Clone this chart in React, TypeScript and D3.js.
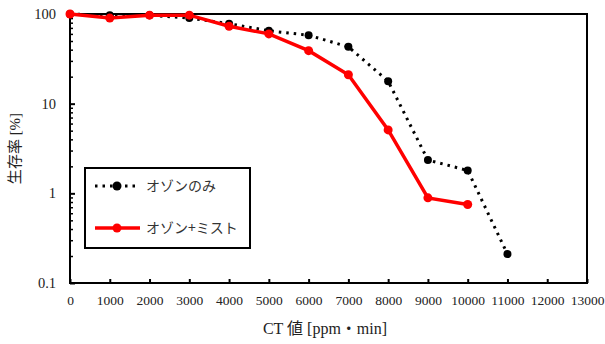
import * as d3 from "d3";
import { useEffect, useRef } from "react";

const ctValues = [0, 1000, 2000, 3000, 4000, 5000, 6000, 7000, 8000, 9000, 10000, 11000];
const ozoneOnly = [100, 97, 97, 90, 78, 65, 58, 43, 17.8, 2.35, 1.8, 0.21];
const ozoneMist = [100, 90, 97, 97, 73, 60, 39, 21, 5.1, 0.89, 0.75];
const xTicks = d3.range(0, 13001, 1000);
const yTicks = [0.1, 1, 10, 100];
const seriesNames = ["オゾンのみ", "オゾン+ミスト"];

const W = 605;
const H = 344;
const margin = { left: 70, top: 14, right: 18, bottom: 61 };
const SERIF = "Liberation Serif, Noto Sans CJK JP, serif";
const JP = "Noto Sans CJK JP, sans-serif";

export default function App() {
  const svgRef = useRef<SVGSVGElement>(null);

  useEffect(() => {
    const svg = d3.select(svgRef.current);
    svg.selectAll("*").remove();

    const x = d3.scaleLinear().domain([0, 13000]).range([margin.left, W - margin.right]);
    const y = d3.scaleLog().domain([0.1, 100]).range([H - margin.bottom, margin.top]);

    // frame
    svg
      .append("rect")
      .attr("x", margin.left)
      .attr("y", margin.top)
      .attr("width", x.range()[1] - margin.left)
      .attr("height", y.range()[0] - margin.top)
      .attr("fill", "none")
      .attr("stroke", "black")
      .attr("stroke-width", 2);

    // x axis
    const xAxis = d3
      .axisBottom(x)
      .tickValues(xTicks)
      .tickSizeInner(-4)
      .tickSizeOuter(0)
      .tickPadding(12)
      .tickFormat(d3.format("d"));
    const gx = svg.append("g").attr("transform", `translate(0,${y.range()[0]})`).call(xAxis);
    gx.attr("font-family", SERIF).attr("font-size", 13.5);
    gx.select(".domain").remove();
    gx.selectAll("line").attr("stroke-width", 2);
    gx.selectAll("text").attr("fill", "#222");

    // y axis with minor ticks
    const minor: number[] = [];
    [0.1, 1, 10].forEach((d) => {
      for (let k = 2; k <= 9; k++) minor.push(d * k);
    });
    const gyMinor = svg
      .append("g")
      .attr("transform", `translate(${margin.left},0)`)
      .call(d3.axisLeft(y).tickValues(minor).tickSizeInner(-3).tickSizeOuter(0).tickFormat(() => ""));
    gyMinor.select(".domain").remove();
    gyMinor.selectAll("line").attr("stroke-width", 1.5);

    const yAxis = d3
      .axisLeft(y)
      .tickValues(yTicks)
      .tickSizeInner(-5)
      .tickSizeOuter(0)
      .tickPadding(14)
      .tickFormat((d) => String(d));
    const gy = svg.append("g").attr("transform", `translate(${margin.left},0)`).call(yAxis);
    gy.attr("font-family", SERIF).attr("font-size", 14.5);
    gy.select(".domain").remove();
    gy.selectAll("line").attr("stroke-width", 2);
    gy.selectAll("text").attr("fill", "#222");

    const lineGen = d3
      .line<number>()
      .x((_, i) => x(ctValues[i]))
      .y((d) => y(d));

    // ozone only: dotted
    svg
      .append("path")
      .datum(ozoneOnly)
      .attr("d", lineGen)
      .attr("fill", "none")
      .attr("stroke", "black")
      .attr("stroke-width", 3)
      .attr("stroke-dasharray", "2.5,5");
    svg
      .append("g")
      .selectAll("circle")
      .data(ozoneOnly)
      .join("circle")
      .attr("cx", (_, i) => x(ctValues[i]))
      .attr("cy", (d) => y(d))
      .attr("r", 4)
      .attr("fill", "black");

    // ozone + mist: solid red
    svg
      .append("path")
      .datum(ozoneMist)
      .attr("d", lineGen)
      .attr("fill", "none")
      .attr("stroke", "#ff0000")
      .attr("stroke-width", 3.5);
    svg
      .append("g")
      .selectAll("circle")
      .data(ozoneMist)
      .join("circle")
      .attr("cx", (_, i) => x(ctValues[i]))
      .attr("cy", (d) => y(d))
      .attr("r", 4.5)
      .attr("fill", "#ff0000");

    // legend
    const lg = svg.append("g").attr("transform", "translate(85,168)");
    lg.append("rect")
      .attr("width", 165)
      .attr("height", 80)
      .attr("fill", "white")
      .attr("stroke", "black")
      .attr("stroke-width", 2);
    const items = [
      { name: seriesNames[0], color: "black", dash: "2.5,5", w: 3, yy: 18 },
      { name: seriesNames[1], color: "#ff0000", dash: null, w: 3.5, yy: 60 },
    ];
    items.forEach((it) => {
      lg.append("line")
        .attr("x1", 10)
        .attr("x2", 55)
        .attr("y1", it.yy)
        .attr("y2", it.yy)
        .attr("stroke", it.color)
        .attr("stroke-width", it.w)
        .attr("stroke-dasharray", it.dash);
      lg.append("circle").attr("cx", 32).attr("cy", it.yy).attr("r", 4.5).attr("fill", it.color);
      lg.append("text")
        .attr("x", 61)
        .attr("y", it.yy)
        .attr("dy", "0.35em")
        .attr("font-family", JP)
        .attr("font-size", 14)
        .attr("fill", "#333")
        .text(it.name);
    });

    // axis titles
    svg
      .append("text")
      .attr("transform", `translate(20,${(margin.top + y.range()[0]) / 2}) rotate(-90)`)
      .attr("text-anchor", "middle")
      .attr("font-family", SERIF)
      .attr("font-size", 15)
      .attr("fill", "#222")
      .text("生存率 [%]");
    svg
      .append("text")
      .attr("x", 325)
      .attr("y", 334)
      .attr("text-anchor", "middle")
      .attr("font-family", SERIF)
      .attr("font-size", 16)
      .attr("fill", "#222")
      .text("CT 値 [ppm・min]");
  }, []);

  return (
    <svg
      ref={svgRef}
      width={W}
      height={H}
      style={{ position: "absolute", left: 0, top: 0, background: "white" }}
    />
  );
}
